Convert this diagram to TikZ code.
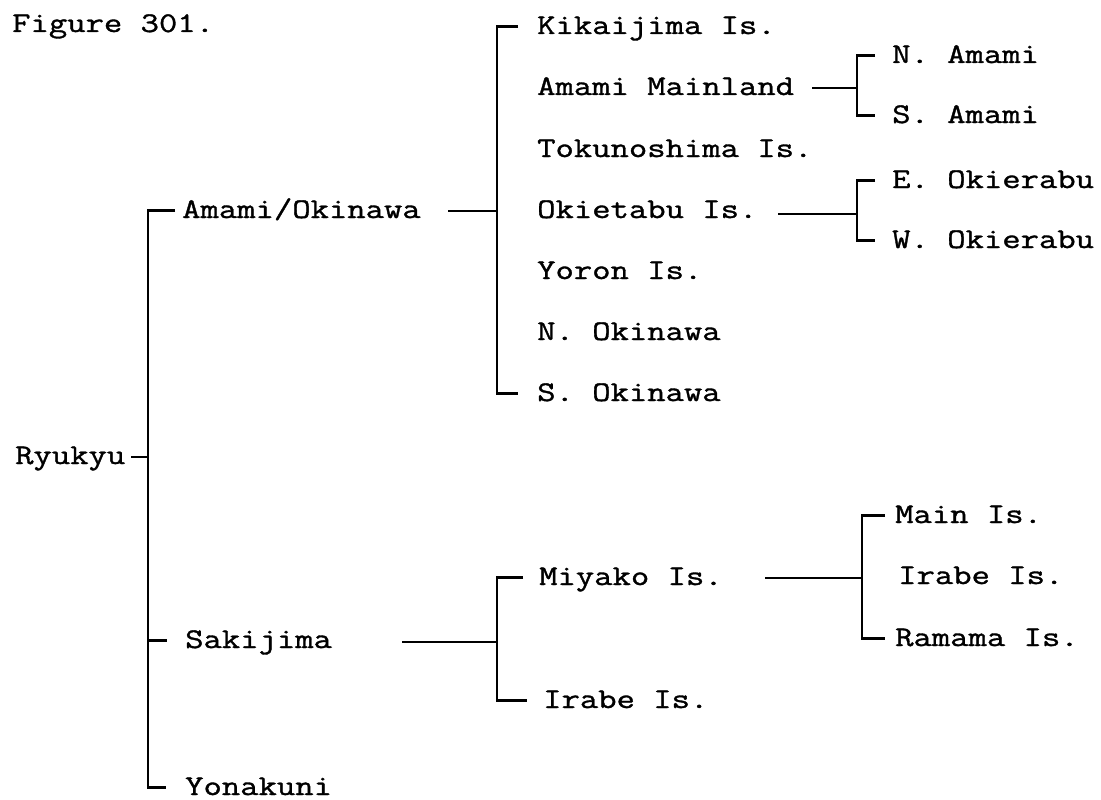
\documentclass[tikz,border=0pt]{standalone}
\usepackage{fontspec}
\newfontfamily\refmono[FakeStretch=1.25,FakeBold=1.2]{Latin Modern Mono}
\begin{document}
\begin{tikzpicture}[x=1pt,y=-1pt,
  lbl/.style={anchor=base west, inner sep=0pt, font=\refmono\fontsize{28.5}{34}\selectfont},
  tree/.style={line width=2.2pt, line join=miter, black},
  tk/.style={xshift=-#1, yshift=7.5pt}]
\useasboundingbox (0,0) rectangle (1101,800);
\fill[white] (0,0) rectangle (1101,800);
% level 0/1
\node[lbl] (fig)  at (12,32)  {Figure 301.};
\node[lbl] (ryu)  at (15,464) {Ryukyu};
\node[lbl] (amok) at (182,218) {Amami/Okinawa};
\node[lbl] (saki) at (185,648) {Sakijima};
\node[lbl] (yona) at (185,795) {Yonakuni};
% level 2 (Amami/Okinawa)
\node[lbl] (kik) at (537,34)  {Kikaijima Is.};
\node[lbl] (amm) at (537,95)  {Amami Mainland};
\node[lbl] (tok) at (537,157) {Tokunoshima Is.};
\node[lbl] (oki) at (537,218) {Okietabu Is.};
\node[lbl] (yor) at (537,279) {Yoron Is.};
\node[lbl] (nok) at (537,340) {N. Okinawa};
\node[lbl] (sok) at (537,401) {S. Okinawa};
% level 3
\node[lbl] (namami) at (892,63)  {N. Amami};
\node[lbl] (samami) at (892,123) {S. Amami};
\node[lbl] (eoki)   at (892,188) {E. Okierabu};
\node[lbl] (woki)   at (892,248) {W. Okierabu};
% Sakijima branch
\node[lbl] (miy)  at (539,585) {Miyako Is.};
\node[lbl] (ira)  at (543,708) {Irabe Is.};
\node[lbl] (main) at (895,523) {Main Is.};
\node[lbl] (ira2) at (898,584) {Irabe Is.};
\node[lbl] (ram)  at (895,646) {Ramama Is.};
% spine positions and free ends
\coordinate (sp1) at (148,0);
\coordinate (sp2) at (497,0);
\coordinate (sp3) at (857,0);
\coordinate (sp6) at (862,0);
\coordinate (ryuR)  at (131,457);
\coordinate (amokR) at (448,211);
\coordinate (ammR)  at (812,88);
\coordinate (okiR)  at (778,214);
\coordinate (sakiR) at (402,642);
\coordinate (miyR)  at (765,578);
% tick ends beside the labels
\coordinate (t-amok) at ([tk=7pt]amok.base west);
\coordinate (t-saki) at ([tk=18pt]saki.base west);
\coordinate (t-yona) at ([tk=19pt]yona.base west);
\coordinate (t-kik)  at ([tk=19pt]kik.base west);
\coordinate (t-sok)  at ([tk=19pt]sok.base west);
\coordinate (t-nam)  at ([tk=17pt]namami.base west);
\coordinate (t-sam)  at ([tk=17pt]samami.base west);
\coordinate (t-eok)  at ([tk=17pt]eoki.base west);
\coordinate (t-wok)  at ([tk=17pt]woki.base west);
\coordinate (t-miy)  at ([tk=16pt]miy.base west);
\coordinate (t-ira)  at ([tk=16pt]ira.base west);
\coordinate (t-main) at ([tk=10pt]main.base west);
\coordinate (t-ram)  at ([tk=10pt]ram.base west);
% Ryukyu tree
\draw[tree] (t-amok) -| (sp1 |- t-yona) -- (t-yona);
\draw[tree] (ryuR) -- (sp1 |- ryuR);
\draw[tree] (sp1 |- t-saki) -- (t-saki);
% Amami/Okinawa
\draw[tree] (amokR) -- (sp2 |- amokR);
\draw[tree] (t-kik) -| (sp2 |- t-sok) -- (t-sok);
% Amami Mainland
\draw[tree] (ammR) -- (sp3 |- ammR);
\draw[tree] (t-nam) -| (sp3 |- t-sam) -- (t-sam);
% Okietabu
\draw[tree] (okiR) -- (sp3 |- okiR);
\draw[tree] (t-eok) -| (sp3 |- t-wok) -- (t-wok);
% Sakijima
\draw[tree] (sakiR) -- (sp2 |- sakiR);
\draw[tree] (t-miy) -| (sp2 |- t-ira) -- (t-ira);
% Miyako
\draw[tree] (miyR) -- (sp6 |- miyR);
\draw[tree] (t-main) -| (sp6 |- t-ram) -- (t-ram);
\end{tikzpicture}
\end{document}
